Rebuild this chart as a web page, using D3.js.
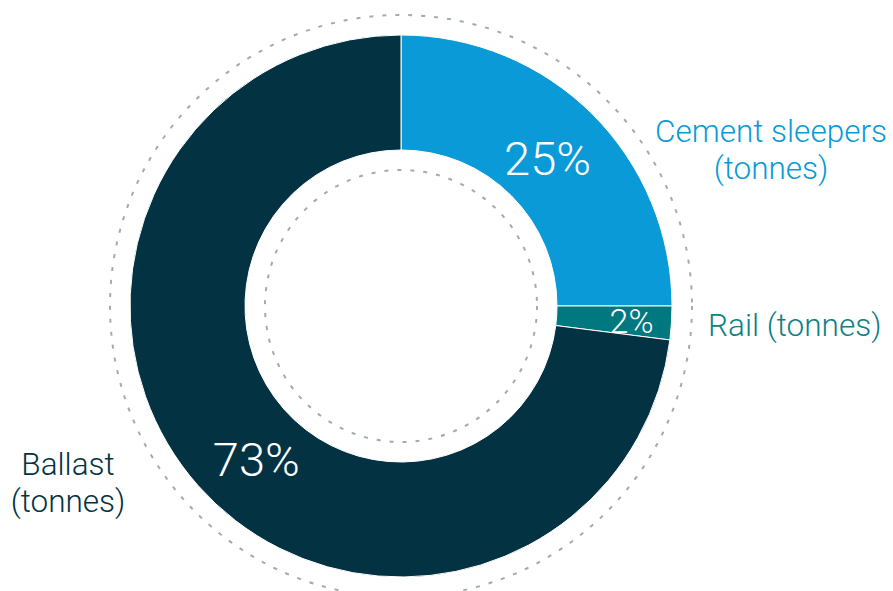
<!DOCTYPE html>
<html>
<head>
<meta charset="utf-8">
<script src="https://cdn.jsdelivr.net/npm/d3@7"></script>
<style>
  html, body { margin: 0; padding: 0; background: #ffffff; }
  svg { display: block; }
  text { font-family: "Roboto", "Liberation Sans", sans-serif; font-weight: 300; }
</style>
</head>
<body>
<svg id="chart" width="893" height="591"></svg>
<script>
// Material share by mass
const categories = ["Cement sleepers", "Rail", "Ballast"];
const shares = [25, 2, 73];
const percentLabels = ["25%", "2%", "73%"];
const legendLines = [["Cement sleepers", "(tonnes)"], ["Rail (tonnes)"], ["Ballast", "(tonnes)"]];
const colors = ["#0a9ad7", "#00787f", "#033342"];
const labelColors = ["#0a9ad7", "#0f7f88", "#033342"];

const width = 893, height = 591;
const cx = 401, cy = 306;
const outerR = 271, innerR = 156;

const svg = d3.select("#chart");
const g = svg.append("g").attr("transform", `translate(${cx},${cy})`);

const data = categories.map((c, i) => ({ name: c, value: shares[i], i }));
const pie = d3.pie().value(d => d.value).sort(null);
const arcs = pie(data);

const arc = d3.arc().innerRadius(innerR).outerRadius(outerR);

// dotted guide rings
[291, 136].forEach(r => {
  g.append("circle")
    .attr("r", r)
    .attr("fill", "none")
    .attr("stroke", "#a3abab")
    .attr("stroke-width", 2)
    .attr("stroke-dasharray", "4 9");
});

g.selectAll("path.slice")
  .data(arcs)
  .join("path")
  .attr("class", "slice")
  .attr("d", arc)
  .attr("fill", d => colors[d.data.i])
  .attr("stroke", "#ffffff")
  .attr("stroke-width", 1);

// percentage labels inside the ring
const pctStyle = [
  { r: 208, da: -0.2, size: 47 },
  { r: 231, da: 0, size: 34 },
  { r: 211, da: -5.3, size: 47 }
];
g.selectAll("text.pct")
  .data(arcs)
  .join("text")
  .attr("class", "pct")
  .attr("text-anchor", "middle")
  .attr("dominant-baseline", "central")
  .attr("fill", "#ffffff")
  .attr("font-size", d => pctStyle[d.data.i].size)
  .attr("x", d => {
    const s = pctStyle[d.data.i];
    const a = (d.startAngle + d.endAngle) / 2 + s.da * Math.PI / 180;
    return s.r * Math.sin(a);
  })
  .attr("y", d => {
    const s = pctStyle[d.data.i];
    const a = (d.startAngle + d.endAngle) / 2 + s.da * Math.PI / 180;
    return -s.r * Math.cos(a);
  })
  .text(d => percentLabels[d.data.i]);

// category labels around the ring
const legendPos = [
  { x: 771, y: 142, anchor: "middle" },
  { x: 708, y: 336, anchor: "start" },
  { x: 68, y: 475, anchor: "middle" }
];
legendLines.forEach((lines, i) => {
  const p = legendPos[i];
  const t = svg.append("text")
    .attr("text-anchor", p.anchor)
    .attr("fill", labelColors[i])
    .attr("font-size", 31.5);
  lines.forEach((ln, k) => {
    t.append("tspan").attr("x", p.x).attr("y", p.y + k * 37).text(ln);
  });
});
</script>
</body>
</html>
